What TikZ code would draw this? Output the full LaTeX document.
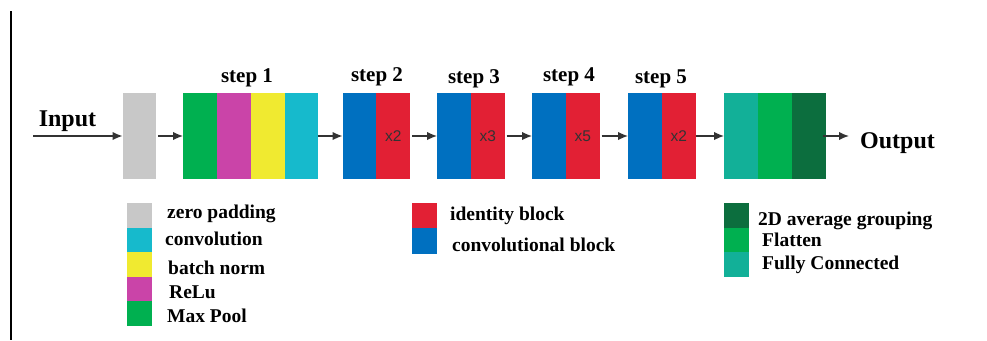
\documentclass[tikz,border=0pt]{standalone}
\usepackage{fontspec}
\setmainfont{Liberation Serif}
\newfontfamily\lsans{Liberation Sans}
\usepackage{tikz}
\usetikzlibrary{positioning}
\usetikzlibrary{arrows.meta}
\definecolor{padgray}{RGB}{200,200,200}
\definecolor{poolgreen}{RGB}{0,176,80}
\definecolor{relumag}{RGB}{202,68,168}
\definecolor{normyel}{RGB}{240,234,48}
\definecolor{convcyan}{RGB}{22,186,204}
\definecolor{cblue}{RGB}{0,112,192}
\definecolor{idred}{RGB}{226,32,52}
\definecolor{fcteal}{RGB}{18,176,152}
\definecolor{flatgreen}{RGB}{0,176,80}
\definecolor{avgdark}{RGB}{12,110,62}

\begin{document}
\begin{tikzpicture}[x=1pt,y=-1pt,>={Latex[length=10pt,width=8.5pt]},node distance=0pt,
 blk/.style={rectangle,fill=#1,minimum width=33.8pt,minimum height=86pt,inner sep=0pt,outer sep=0pt},
 swatch/.style={rectangle,fill=#1,minimum width=25pt,minimum height=24.5pt,inner sep=0pt,outer sep=0pt},
 steplbl/.style={anchor=base,font=\fontsize{21}{24}\selectfont\bfseries},
 lgd/.style={anchor=base west,inner sep=0pt,font=\fontsize{19.5}{22}\selectfont\bfseries},
 rep/.style={font=\fontsize{15.5}{17}\lsans,text=black!80},
 flow/.style={->,line width=1.6pt,black!80}]

\useasboundingbox (0,0) rectangle (987,340);
\draw[line width=1.3pt] (11,11) -- (11,340);

\node[blk=padgray] (pad) at (139.5,136) {};

\node[blk=poolgreen] (s1a) at (200,136) {};
\node[blk=relumag, right=of s1a] (s1b) {};
\node[blk=normyel, right=of s1b] (s1c) {};
\node[blk=convcyan, right=of s1c] (s1d) {};

\node[blk=cblue] (s2a) at (359.5,136) {};
\node[blk=idred, right=of s2a, rep] (s2b) {x2};

\node[blk=cblue] (s3a) at (454,136) {};
\node[blk=idred, right=of s3a, rep] (s3b) {x3};

\node[blk=cblue] (s4a) at (549,136) {};
\node[blk=idred, right=of s4a, rep] (s4b) {x5};

\node[blk=cblue] (s5a) at (645,136) {};
\node[blk=idred, right=of s5a, rep] (s5b) {x2};

\node[blk=fcteal] (fc) at (741,136) {};
\node[blk=flatgreen, right=of fc] (flat) {};
\node[blk=avgdark, right=of flat] (avg) {};

\node[steplbl] (st1) at (247,82) {step 1};
\node[steplbl] (st2) at (377,81) {step 2};
\node[steplbl] (st3) at (474,83) {step 3};
\node[steplbl] (st4) at (569,81) {step 4};
\node[steplbl] (st5) at (661,83) {step 5};

\node[anchor=base,inner sep=0pt,font=\fontsize{24}{28}\selectfont\bfseries] (inlbl) at (67.5,126) {Input};
\node[anchor=base west,inner sep=0pt,font=\fontsize{24}{28}\selectfont\bfseries] (outlbl) at (860,148) {Output};
\coordinate (in) at (33,136);
\coordinate (out) at (849,136);

\draw[flow] (in) -- (pad);
\draw[flow,shorten <=2pt] (pad) -- (s1a);
\draw[flow] (s1d) -- (s2a);
\draw[flow,shorten <=2pt] (s2b) -- (s3a);
\draw[flow,shorten <=2pt] (s3b) -- (s4a);
\draw[flow,shorten <=2pt] (s4b) -- (s5a);
\draw[flow] (s5b) -- (fc);
\draw[flow,shorten <=-3pt] (avg) -- (out);

\node[swatch=padgray] (k1) at (139.5,215.5) {};
\node[swatch=convcyan, below=of k1] (k2) {};
\node[swatch=normyel, below=of k2] (k3) {};
\node[swatch=relumag, below=of k3] (k4) {};
\node[swatch=poolgreen, below=of k4] (k5) {};
\node[lgd] (t1) at (167,218) {zero padding};
\node[lgd] (t2) at (165,245) {convolution};
\node[lgd] (t3) at (168,274) {batch norm};
\node[lgd] (t4) at (169,298) {ReLu};
\node[lgd] (t5) at (167,322) {Max Pool};

\node[swatch=idred, minimum height=25.5pt] (k6) at (424,215.5) {};
\node[swatch=cblue, minimum height=25.5pt, below=of k6] (k7) {};
\node[lgd] (t6) at (450,220) {identity block};
\node[lgd] (t7) at (452,251) {convolutional block};

\node[swatch=avgdark] (k8) at (736.5,215.5) {};
\node[swatch=flatgreen, below=of k8] (k9) {};
\node[swatch=fcteal, below=of k9] (k10) {};
\node[lgd] (t8) at (758,225) {2D average grouping};
\node[lgd] (t9) at (762,246) {Flatten};
\node[lgd] (t10) at (762,269) {Fully Connected};
\end{tikzpicture}
\end{document}
